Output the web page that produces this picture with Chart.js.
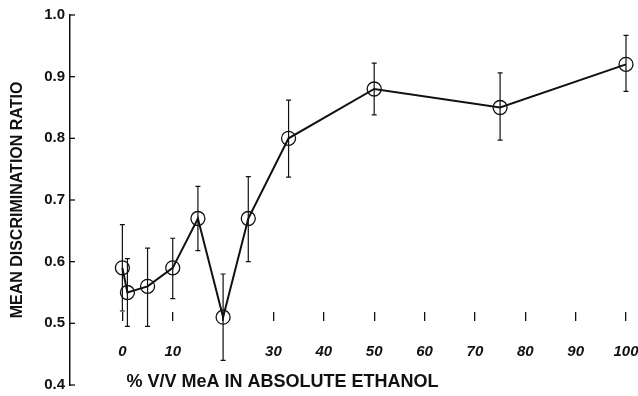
<!DOCTYPE html>
<html>
<head>
<meta charset="utf-8">
<script src="https://cdn.jsdelivr.net/npm/chart.js@4.4.1/dist/chart.umd.min.js"></script>
<style>
  html, body { margin: 0; padding: 0; background: #fff; }
  #wrap { width: 638px; height: 396px; position: relative; }
</style>
</head>
<body>
<div id="wrap"><canvas id="grafica"></canvas></div>
<script>
// Datos
const concentraciones = [0, 1, 5, 10, 15, 20, 25, 33, 50, 75, 100];
const ratioMedio      = [0.59, 0.55, 0.56, 0.59, 0.67, 0.51, 0.67, 0.80, 0.88, 0.85, 0.92];
const errorArriba     = [0.66, 0.605, 0.622, 0.638, 0.722, 0.58, 0.738, 0.862, 0.922, 0.906, 0.967];
const errorAbajo      = [0.52, 0.495, 0.495, 0.54, 0.618, 0.44, 0.60, 0.737, 0.838, 0.797, 0.876];
const ticksX          = [0, 10, 20, 30, 40, 50, 60, 70, 80, 90, 100];
const etiquetasX      = ["0", "10", "", "30", "40", "50", "60", "70", "80", "90", "100"];
const ticksY          = [0.4, 0.5, 0.6, 0.7, 0.8, 0.9, 1.0];
const tituloX         = "% V/V MeA IN ABSOLUTE ETHANOL";
const tituloY         = "MEAN DISCRIMINATION RATIO";

const FUENTE = "'Liberation Sans', Arial, sans-serif";

// Barras de error, marcas interiores del eje Y y titulo del eje X
const pluginExtras = {
  id: "extras",
  afterDatasetsDraw(chart) {
    const { ctx, scales: { x, y } } = chart;
    ctx.save();
    ctx.strokeStyle = "#111";
    ctx.lineWidth = 1.2;
    concentraciones.forEach((c, i) => {
      const px = x.getPixelForValue(c);
      const yTop = y.getPixelForValue(errorArriba[i]);
      const yBot = y.getPixelForValue(errorAbajo[i]);
      ctx.beginPath();
      ctx.moveTo(px, yTop); ctx.lineTo(px, yBot);
      ctx.moveTo(px - 2.5, yTop); ctx.lineTo(px + 2.5, yTop);
      ctx.moveTo(px - 2.5, yBot); ctx.lineTo(px + 2.5, yBot);
      ctx.stroke();
    });
    // marcas del eje Y hacia dentro
    ctx.lineWidth = 1.3;
    ticksY.forEach((v) => {
      const py = y.getPixelForValue(v);
      ctx.beginPath();
      ctx.moveTo(x.left, py); ctx.lineTo(x.left + 5, py);
      ctx.stroke();
    });
    // titulo del eje X (desplazado a la izquierda como en el original)
    ctx.fillStyle = "#111";
    ctx.font = "bold 18px " + FUENTE;
    ctx.textAlign = "center";
    ctx.textBaseline = "middle";
    ctx.fillText(tituloX, x.getPixelForValue(31.8), y.getPixelForValue(0.4) - 3);
    ctx.restore();
  },
};

function crearGrafica() {
  const ctx = document.getElementById("grafica").getContext("2d");
  new Chart(ctx, {
    type: "line",
    data: {
      datasets: [{
        data: concentraciones.map((c, i) => ({ x: c, y: ratioMedio[i] })),
        borderColor: "#111",
        borderWidth: 2,
        pointRadius: 7,
        pointBorderWidth: 1.3,
        pointBorderColor: "#111",
        pointBackgroundColor: "rgba(255,255,255,0)",
        tension: 0,
        clip: false,
      }],
    },
    options: {
      responsive: true,
      maintainAspectRatio: false,
      animation: false,
      layout: { padding: { top: 15, right: 12, bottom: 11, left: 0 } },
      plugins: { legend: { display: false }, tooltip: { enabled: false } },
      scales: {
        x: {
          type: "linear",
          min: -10.4,
          max: 100,
          position: { y: 0.518 },
          afterBuildTicks: (s) => { s.ticks = ticksX.map((v) => ({ value: v })); },
          afterFit: (s) => { s.paddingLeft = 0; s.paddingRight = 0; s.height = 0; },
          border: { display: false },
          grid: { drawOnChartArea: false, drawTicks: true, tickLength: 9, color: "#111", lineWidth: 1.3 },
          ticks: {
            color: "#111",
            padding: 22,
            maxRotation: 0,
            autoSkip: false,
            font: { family: FUENTE, size: 15, weight: "bold", style: "italic" },
            callback: (v) => etiquetasX[ticksX.indexOf(v)],
          },
        },
        y: {
          min: 0.4,
          max: 1.0,
          afterBuildTicks: (s) => { s.ticks = ticksY.map((v) => ({ value: v })); },
          afterFit: (s) => { s.width = 70; s.paddingTop = 0; s.paddingBottom = 0; },
          border: { display: true, color: "#111", width: 1.5 },
          grid: { display: false, drawTicks: false },
          ticks: {
            color: "#111",
            padding: 5,
            font: { family: FUENTE, size: 15, weight: "bold" },
            callback: (v) => v.toFixed(1),
          },
          title: {
            display: true,
            text: tituloY,
            color: "#111",
            padding: { top: 8, bottom: 0 },
            font: { family: FUENTE, size: 16, weight: "bold" },
          },
        },
      },
    },
    plugins: [pluginExtras],
  });
}

document.addEventListener("DOMContentLoaded", crearGrafica);
</script>
</body>
</html>
